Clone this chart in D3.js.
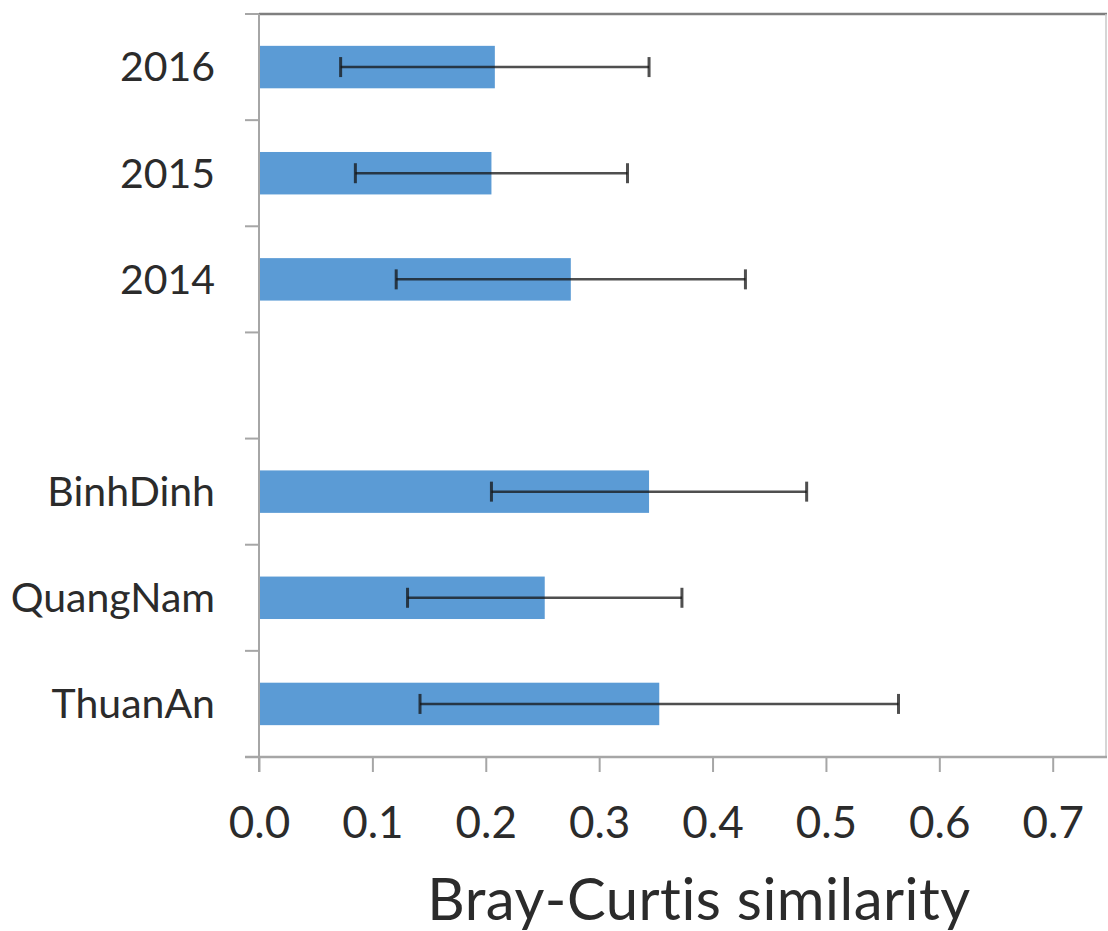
<!DOCTYPE html>
<html>
<head>
<meta charset="utf-8">
<script src="https://cdn.jsdelivr.net/npm/d3@7/dist/d3.min.js"></script>
<style>
  html, body { margin: 0; padding: 0; background: #fff; }
  svg { display: block; }
  text { font-family: Lato, "Open Sans", sans-serif; fill: #2b2b2b; font-variant-ligatures: none; font-feature-settings: "liga" 0, "clig" 0; }
</style>
</head>
<body>
<svg id="chart" width="1108" height="931"></svg>
<script>
// Category rows from top to bottom; the empty row separates years from sites
const categories = ["2016", "2015", "2014", "", "BinhDinh", "QuangNam", "ThuanAn"];
// Mean Bray-Curtis similarity per row
const means = [0.208, 0.205, 0.275, null, 0.344, 0.252, 0.353];
// Standard deviation per row (symmetric error bars)
const deviations = [0.136, 0.120, 0.154, null, 0.139, 0.121, 0.211];
const xTicks = [0.0, 0.1, 0.2, 0.3, 0.4, 0.5, 0.6, 0.7];
const xTitle = "Bray-Curtis similarity";

const rows = categories.map((c, i) => ({ key: "r" + i, label: c, mean: means[i], sd: deviations[i] }));

const svg = d3.select("#chart");
const plotLeft = 259, plotRight = 1106, plotTop = 14, plotBottom = 757;

const x = d3.scaleLinear().domain([0, 0.747]).range([plotLeft, plotRight]);
const y = d3.scaleBand()
  .domain(rows.map(r => r.key))
  .range([plotTop, plotBottom])
  .paddingInner(0.6)
  .paddingOuter(0.3);

const axisGrey = "#a6a6a6";

// Plot-area frame: top and right edges
svg.append("line")
  .attr("x1", plotLeft).attr("x2", plotRight + 1).attr("y1", plotTop).attr("y2", plotTop)
  .attr("stroke", "#7f7f7f").attr("stroke-width", 2.5);
svg.append("line")
  .attr("x1", plotRight).attr("x2", plotRight).attr("y1", plotTop).attr("y2", plotBottom)
  .attr("stroke", "#c8c8c8").attr("stroke-width", 1.5);

// Bars
svg.append("g").selectAll("rect")
  .data(rows.filter(r => r.mean != null))
  .join("rect")
  .attr("x", x(0))
  .attr("y", r => y(r.key))
  .attr("width", r => x(r.mean) - x(0))
  .attr("height", y.bandwidth())
  .attr("fill", "#5b9bd5");

// Error bars (mean ± sd)
const err = svg.append("g")
  .attr("stroke", "rgba(20,20,20,0.75)")
  .selectAll("g")
  .data(rows.filter(r => r.mean != null))
  .join("g")
  .attr("transform", r => `translate(0,${y(r.key) + y.bandwidth() / 2})`);
err.append("line")
  .attr("x1", r => x(r.mean - r.sd)).attr("x2", r => x(r.mean + r.sd))
  .attr("stroke-width", 2.5);
err.append("line")
  .attr("x1", r => x(r.mean - r.sd)).attr("x2", r => x(r.mean - r.sd))
  .attr("y1", -10).attr("y2", 10).attr("stroke-width", 3);
err.append("line")
  .attr("x1", r => x(r.mean + r.sd)).attr("x2", r => x(r.mean + r.sd))
  .attr("y1", -10).attr("y2", 10).attr("stroke-width", 3);

// Left axis: line plus ticks on the category boundaries
const step = y.step();
const boundaries = d3.range(rows.length + 1).map(i => plotTop + i * step);
const gy = svg.append("g");
gy.append("line")
  .attr("x1", plotLeft).attr("x2", plotLeft).attr("y1", plotTop).attr("y2", plotBottom + 15)
  .attr("stroke", axisGrey).attr("stroke-width", 2);
gy.selectAll("line.tick")
  .data(boundaries)
  .join("line")
  .attr("class", "tick")
  .attr("x1", plotLeft - 14).attr("x2", plotLeft)
  .attr("y1", d => d).attr("y2", d => d)
  .attr("stroke", axisGrey).attr("stroke-width", 2);
gy.selectAll("text")
  .data(rows.filter(r => r.label !== ""))
  .join("text")
  .attr("x", 215)
  .attr("y", r => y(r.key) + y.bandwidth() / 2)
  .attr("dy", "0.35em")
  .attr("text-anchor", "end")
  .attr("font-size", 41)
  .text(r => r.label);

// Bottom axis
const xAxis = d3.axisBottom(x)
  .tickValues(xTicks)
  .tickFormat(d3.format(".1f"))
  .tickSize(15)
  .tickPadding(35)
  .tickSizeOuter(0);
const gx = svg.append("g")
  .attr("transform", `translate(0,${plotBottom})`)
  .call(xAxis);
gx.select(".domain").remove();
gx.append("line")
  .attr("x1", plotLeft - 14).attr("x2", plotRight + 1)
  .attr("stroke", axisGrey).attr("stroke-width", 2.5);
gx.selectAll(".tick line").attr("stroke", axisGrey).attr("stroke-width", 2);
gx.selectAll(".tick text")
  .attr("font-family", "Lato, 'Open Sans', sans-serif")
  .attr("font-size", 44)
  .attr("fill", "#2b2b2b");

// Axis title
svg.append("text")
  .attr("x", 699)
  .attr("y", 920)
  .attr("text-anchor", "middle")
  .attr("font-size", 58)
  .attr("letter-spacing", 0.5)
  .text(xTitle);
</script>
</body>
</html>
